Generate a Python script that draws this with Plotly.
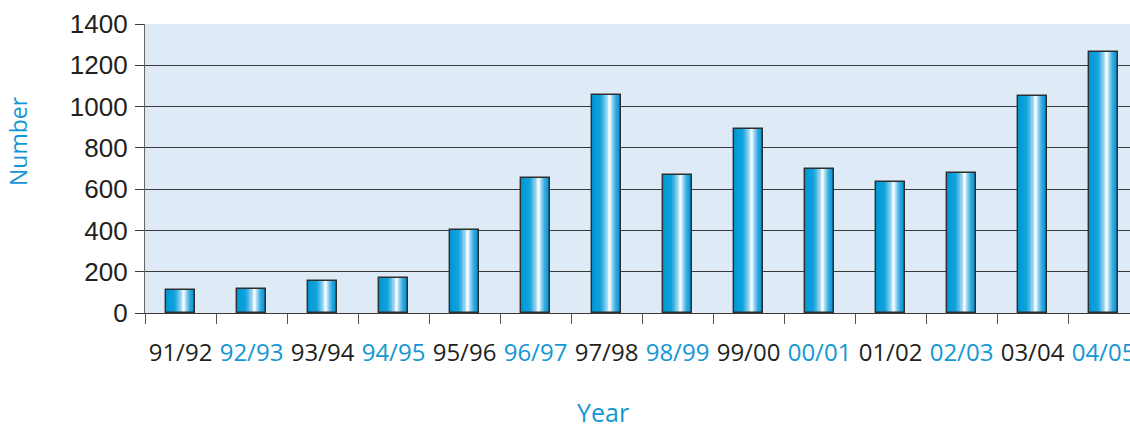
import plotly.graph_objects as go

# Number per year
years = ["91/92", "92/93", "93/94", "94/95", "95/96", "96/97", "97/98",
         "98/99", "99/00", "00/01", "01/02", "02/03", "03/04", "04/05"]
counts = [110, 115, 155, 170, 400, 655, 1055, 670, 890, 700, 635, 678, 1050, 1265]
y_ticks = [0, 200, 400, 600, 800, 1000, 1200, 1400]

BLUE = "#1297d4"
DARK = "#231f20"
GRID = "#3a3a3a"

# Horizontal shading stops across a bar (fraction of width, RGB)
stops = [
    (0.00, (8, 140, 200)),
    (0.06, (0, 155, 216)),
    (0.30, (16, 162, 219)),
    (0.45, (100, 192, 234)),
    (0.56, (232, 245, 252)),
    (0.60, (250, 253, 255)),
    (0.70, (140, 207, 238)),
    (0.82, (48, 168, 223)),
    (0.94, (6, 152, 214)),
    (1.00, (10, 130, 190)),
]


def shade(t):
    for (t0, c0), (t1, c1) in zip(stops, stops[1:]):
        if t0 <= t <= t1:
            f = (t - t0) / (t1 - t0) if t1 > t0 else 0
            r, g, b = (round(a + (b_ - a) * f) for a, b_ in zip(c0, c1))
            return f"rgb({r},{g},{b})"
    r, g, b = stops[-1][1]
    return f"rgb({r},{g},{b})"


BAR_W = 0.4
N_SLICES = 28

fig = go.Figure()

# Each slice runs from its start to the bar's right edge; later slices sit on top
for i in range(N_SLICES):
    t0 = i / N_SLICES
    fig.add_trace(go.Bar(
        x=years, y=counts,
        width=BAR_W * (1 - t0),
        offset=-BAR_W / 2 + BAR_W * t0,
        marker=dict(color=shade(t0 + 0.5 / N_SLICES), line=dict(width=0)),
        hoverinfo="skip", showlegend=False,
    ))

# Bar outlines
fig.add_trace(go.Bar(
    x=years, y=counts, width=BAR_W, offset=-BAR_W / 2,
    marker=dict(color="rgba(0,0,0,0)", line=dict(color="#2e2e2e", width=1.4)),
    showlegend=False,
))

tick_text = [
    f'<span style="color:{BLUE if i % 2 else DARK}">{y}</span>'
    for i, y in enumerate(years)
]

fig.update_layout(
    width=1130, height=430,
    margin=dict(l=145, r=0, t=24, b=117, autoexpand=False),
    paper_bgcolor="white",
    plot_bgcolor="#deeaf6",
    barmode="overlay",
    bargap=0,
    font=dict(family="Open Sans", color=DARK),
    xaxis=dict(
        type="category",
        range=[-0.5, 13.5 - 9 / 71],
        tickmode="array", tickvals=years, ticktext=tick_text,
        tickson="boundaries", tickangle=0, automargin=False,
        ticks="outside", ticklen=10, tickwidth=1.3, tickcolor="#555555",
        tickfont=dict(family="Open Sans", size=24, color=DARK),
        ticklabelstandoff=18,
        showline=True, linecolor=GRID, linewidth=1.4,
        showgrid=False, zeroline=False,
    ),
    yaxis=dict(
        range=[0, 1400],
        tickmode="array", tickvals=y_ticks, automargin=False,
        ticks="outside", ticklen=9, tickwidth=1.4, tickcolor=GRID,
        tickfont=dict(family="Liberation Sans", size=26, color=DARK),
        ticklabelstandoff=2,
        showline=True, linecolor="#666666", linewidth=1.3,
        showgrid=True, gridcolor=GRID, gridwidth=1.4,
        zeroline=False,
    ),
    annotations=[
        dict(text="Year", xref="paper", yref="paper", x=(603 - 145) / 985, y=-(412 - 313) / 289,
             xanchor="center", yanchor="middle", showarrow=False,
             font=dict(family="Open Sans", size=25, color=BLUE)),
        dict(text="Number", xref="paper", yref="paper", x=-(145 - 18) / 985, y=(313 - 141) / 289,
             xanchor="center", yanchor="middle", textangle=-90, showarrow=False,
             font=dict(family="Open Sans", size=23, color=BLUE)),
    ],
)

fig.write_html("out.html")
